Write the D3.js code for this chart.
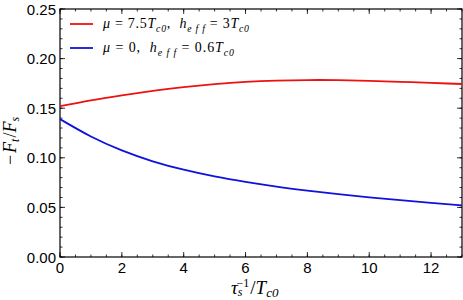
<!DOCTYPE html>
<html><head><meta charset="utf-8">
<script src="https://cdn.jsdelivr.net/npm/d3@7"></script>
<style>body{margin:0;background:#fff}</style>
</head><body>
<svg id="c" width="463" height="300"></svg>
<script>
const xTicks = [0, 2, 4, 6, 8, 10, 12];
const yTicks = [0.00, 0.05, 0.10, 0.15, 0.20, 0.25];
const xs = [0, 1, 2, 3, 4, 5, 6, 7, 8, 9, 10, 11, 12, 13];
const redY = [0.152, 0.158, 0.163, 0.1675, 0.1713, 0.1743, 0.1765, 0.1778, 0.1784, 0.1783, 0.1776, 0.1766, 0.1755, 0.1744];
const blueY = [0.139, 0.1215, 0.1075, 0.0965, 0.0880, 0.0812, 0.0757, 0.0710, 0.0670, 0.0634, 0.0602, 0.0573, 0.0546, 0.0521];

const svg = d3.select("#c");
const L = 60, R = 462, T = 9, B = 257;
const x = d3.scaleLinear().domain([0, 13]).range([L, R]);
const y = d3.scaleLinear().domain([0, 0.25]).range([B, T]);
const g = svg.append("g");

g.append("rect").attr("x", L).attr("y", T).attr("width", R - L).attr("height", B - T)
  .attr("fill", "none").attr("stroke", "#000").attr("stroke-width", 1.2);

const xMinor = d3.range(0, 13.01, 0.5);
const yMinor = d3.range(0, 0.2501, 0.01);
function tk(list, isX, len) {
  list.forEach(v => {
    if (isX) {
      const px = x(v);
      g.append("line").attr("x1", px).attr("x2", px).attr("y1", B).attr("y2", B - len).attr("stroke", "#000").attr("stroke-width", 0.8);
      g.append("line").attr("x1", px).attr("x2", px).attr("y1", T).attr("y2", T + len).attr("stroke", "#000").attr("stroke-width", 0.8);
    } else {
      const py = y(v);
      g.append("line").attr("y1", py).attr("y2", py).attr("x1", L).attr("x2", L + len).attr("stroke", "#000").attr("stroke-width", 0.8);
      g.append("line").attr("y1", py).attr("y2", py).attr("x1", R).attr("x2", R - len).attr("stroke", "#000").attr("stroke-width", 0.8);
    }
  });
}
tk(xMinor, true, 2.5);
tk(xTicks, true, 5);
tk(yMinor, false, 2.5);
tk(yTicks, false, 5);

xTicks.forEach(v => g.append("text").attr("x", x(v)).attr("y", B + 16).attr("text-anchor", "middle")
  .attr("font-family", "Liberation Sans, Arial, sans-serif").attr("font-size", 15).text(v));
yTicks.forEach(v => g.append("text").attr("x", L - 4).attr("y", y(v) + 5.5).attr("text-anchor", "end")
  .attr("font-family", "Liberation Sans, Arial, sans-serif").attr("font-size", 15).text(v.toFixed(2)));

const line = d3.line().x((d, i) => x(xs[i])).y(d => y(d)).curve(d3.curveNatural);
g.append("path").attr("d", line(redY)).attr("fill", "none").attr("stroke", "#ee1111").attr("stroke-width", 1.8);
g.append("path").attr("d", line(blueY)).attr("fill", "none").attr("stroke", "#1111dd").attr("stroke-width", 1.8);

// parts: [text, italic, sub]
function mathText(sel, parts, size) {
  let inSub = false;
  parts.forEach(p => {
    const s = sel.append("tspan").text(p[0]);
    if (p[1]) s.attr("font-style", "italic");
    if (p[2]) { s.attr("font-size", size * 0.7); if (!inSub) { s.attr("dy", size * 0.25); inSub = true; } }
    else if (inSub) { s.attr("dy", -size * 0.25); inSub = false; }
  });
}
function legendItem(yy, color, parts, w) {
  g.append("line").attr("x1", 70).attr("x2", 93).attr("y1", yy).attr("y2", yy).attr("stroke", color).attr("stroke-width", 1.8);
  const t = g.append("text").attr("x", 103).attr("y", yy + 4).attr("xml:space", "preserve")
    .attr("textLength", w).attr("lengthAdjust", "spacing")
    .attr("font-family", "Liberation Serif, serif").attr("font-size", 14);
  mathText(t, parts, 14);
}
legendItem(24, "#ee1111", [["μ", 1], [" = 7.5"], ["T", 1], ["c0", 1, 1], [",  "], ["h", 1], ["e f f", 1, 1], [" = 3"], ["T", 1], ["c0", 1, 1]], 146);
legendItem(48, "#1111dd", [["μ", 1], [" = 0,  "], ["h", 1], ["e f f", 1, 1], [" = 0.6"], ["T", 1], ["c0", 1, 1]], 131);

// axis titles
const xt = g.append("text").attr("x", 231).attr("y", 294)
  .attr("font-family", "Liberation Serif, serif").attr("font-size", 19);
xt.append("tspan").attr("font-style", "italic").text("τ");
xt.append("tspan").attr("font-style", "italic").attr("font-size", 12).attr("dy", 2).text("s");
xt.append("tspan").attr("font-size", 12).attr("dy", -9).attr("dx", -6).text("−1");
xt.append("tspan").attr("dy", 7).attr("dx", 1).text("/");
xt.append("tspan").attr("font-style", "italic").text("T");
xt.append("tspan").attr("font-style", "italic").attr("font-size", 13).attr("dy", 3).text("c0");

const yt = g.append("text").attr("transform", "translate(16,141) rotate(-90)").attr("text-anchor", "middle")
  .attr("font-family", "Liberation Serif, serif").attr("font-size", 18);
yt.append("tspan").text("−");
yt.append("tspan").attr("font-style", "italic").attr("dx", 2).text("F");
yt.append("tspan").attr("font-style", "italic").attr("font-size", 12).attr("dy", 3).text("t");
yt.append("tspan").attr("dy", -3).attr("dx", 1).text("/");
yt.append("tspan").attr("font-style", "italic").text("F");
yt.append("tspan").attr("font-style", "italic").attr("font-size", 12).attr("dy", 3).text("s");
</script>
</body></html>
